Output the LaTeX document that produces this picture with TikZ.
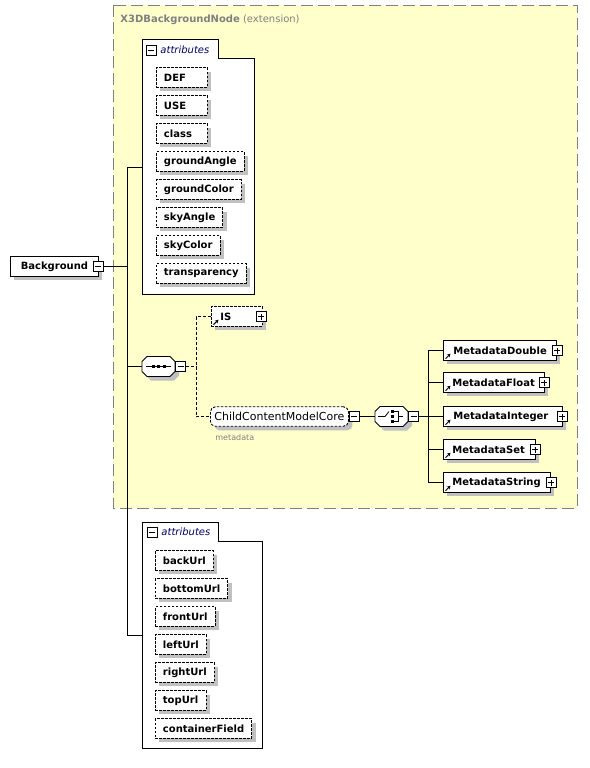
\documentclass[tikz,border=0pt]{standalone}
\usepackage{fontspec}
\setmainfont{DejaVu Sans}
\usetikzlibrary{shadows,arrows.meta}
\definecolor{ylw}{RGB}{255,255,204}
\definecolor{shd}{RGB}{192,192,192}
\definecolor{grayline}{RGB}{128,128,128}
\definecolor{navy}{RGB}{0,0,96}
\newcommand\octshape{(-11.5,-10) -- (11.5,-10) -- (16.5,-5) -- (16.5,5) -- (11.5,10) -- (-11.5,10) -- (-16.5,5) -- (-16.5,-5) -- cycle}
\newcommand\lefttext[1]{\setbox0\hbox{#1}\ifdim\wd0<36pt\hbox to 36pt{#1\hfil}\else\box0\fi}
\begin{document}
\begin{tikzpicture}[x=1pt,y=-1pt, line width=0.9pt,
 every node/.style={font=\fontsize{10pt}{12pt}\selectfont},
 boxshadow/.style={drop shadow={shadow xshift=4pt,shadow yshift=-4pt,fill=shd,opacity=1}},
 elem/.style={draw, fill=white, minimum height=19.5pt, inner ysep=0pt, inner xsep=7.5pt,
   font=\fontsize{10pt}{12pt}\selectfont\bfseries, boxshadow, anchor=west},
 attr/.style={elem, dash pattern=on 2.5pt off 1.5pt},
 metabox/.style={elem, inner xsep=0pt, align=left},
 pmbox/.style={draw, fill=white, minimum size=10pt, inner sep=0pt, line width=0.8pt, solid},
 minusbox/.style={pmbox, path picture={\draw[line width=0.8pt] ([xshift=2pt]path picture bounding box.west) -- ([xshift=-2pt]path picture bounding box.east);}},
 plusbox/.style={pmbox, path picture={\draw[line width=0.8pt] ([xshift=2pt]path picture bounding box.west) -- ([xshift=-2pt]path picture bounding box.east);
     \draw[line width=0.8pt] ([yshift=2pt]path picture bounding box.south) -- ([yshift=-2pt]path picture bounding box.north);}},
 compositor/.style={minimum width=33pt, minimum height=20pt, inner sep=0pt},
 dconn/.style={dash pattern=on 3pt off 2pt},
 iconarrow/.style={-{Stealth[length=3.5pt,width=3.8pt]}, line width=1pt, solid},
 container/.style={draw, fill=white, line width=0.9pt},
 attrlabel/.style={anchor=west, inner sep=0pt, font=\fontsize{10pt}{12pt}\selectfont\itshape, text=navy},
]
\useasboundingbox (0,0) rectangle (589,768);

% extension area
\draw[grayline, dash pattern=on 12pt off 5pt, fill=ylw] (113,5) rectangle (577,508);
\node[anchor=west, inner sep=0pt, text=grayline] (title) at (120,20) {\textbf{X3DBackgroundNode} (extension)};

% attributes container 1
\draw[container] (142,39) -- (218,39) -- (218,58) -- (254,58) -- (254,294) -- (142,294) -- cycle;
\node[minusbox] (a1m) at (151,50.5) {};
\node[attrlabel] (a1lbl) at (160,49.5) {attributes};
\foreach \n/\t [count=\i from 0] in {def/DEF, use/USE, class/class, gangle/groundAngle, gcolor/groundColor, sangle/skyAngle, scolor/skyColor, transp/transparency}
  \node[attr] (\n) at (156,77.5+28*\i) {\lefttext{\t}};

% attributes container 2
\draw[container] (142,522) -- (218,522) -- (218,541) -- (262,541) -- (262,748) -- (142,748) -- cycle;
\node[minusbox] (a2m) at (152,532.5) {};
\node[attrlabel] (a2lbl) at (161,531.5) {attributes};
\foreach \n/\t [count=\i from 0] in {back/backUrl, bottom/bottomUrl, front/frontUrl, left/leftUrl, right/rightUrl, top/topUrl, cfield/containerField}
  \node[attr] (\n) at (155,560.5+28*\i) {\lefttext{\t}};

% root
\node[elem, minimum width=88pt] (bg) at (10,266.5) {Background};
\node[minusbox] (bgm) at (98,266.5) {};

% sequence
\fill[shd, shift={(162.5,370.5)}] \octshape;
\filldraw[fill=white, shift={(158.5,366.5)}] \octshape;
\node[compositor] (seq) at (158.5,366.5) {};
\draw[line width=0.8pt] (146,366.5) -- (171,366.5);
\foreach \xx in {153,158.5,164} \fill (\xx-1.5,365) rectangle +(3,3);
\node[minusbox] (seqm) at (180.5,366.5) {};

% IS
\node[metabox, dash pattern=on 2.5pt off 1.5pt, minimum width=51pt, text width=33pt] (is) at (211,316.5) {IS};
\node[plusbox] (isp) at (261,316.5) {};
\draw[iconarrow] ([shift={(2.5,-2)}]is.south west) -- ++(5,-5);

% ChildContentModelCore
\node[draw, fill=white, rounded corners=5pt, dash pattern=on 2.5pt off 1.5pt, boxshadow,
  minimum width=138pt, minimum height=19.5pt, inner sep=0pt, anchor=west,
  font=\fontsize{11pt}{13pt}\selectfont] (ccmc) at (210,416.5) {ChildContentModelCore};
\node[minusbox] (ccmcm) at (354,416.5) {};
\node[anchor=west, inner sep=0pt, text=grayline, font=\fontsize{8pt}{9pt}\selectfont] (mdlbl) at (215,438) {metadata};

% choice
\fill[shd, shift={(395.5,420.5)}] \octshape;
\filldraw[fill=white, shift={(391.5,416.5)}] \octshape;
\node[compositor] (ch) at (391.5,416.5) {};
\draw[line width=0.8pt] (378,416.5) -- (385,416.5) -- (389,411.5);
\foreach \yy in {411.5,416.5,421} \fill (391,\yy-1.5) rectangle +(3,3);
\draw[line width=0.8pt] (394,411.5) -- (398,411.5) -- (398,421) -- (394,421);
\draw[line width=0.8pt] (398,416.5) -- (402.5,416.5);
\node[minusbox] (chm) at (413.5,416.5) {};

% metadata elements
\node[metabox, minimum width=113pt, text width=93pt] (md) at (443,350.5) {MetadataDouble};
\node[metabox, minimum width=101pt, text width=83pt] (mf) at (443,382.5) {MetadataFloat};
\node[metabox, minimum width=119pt, text width=99pt] (mi) at (443,416.5) {MetadataInteger};
\node[metabox, minimum width=92pt, text width=74pt] (ms) at (443,449.5) {MetadataSet};
\node[metabox, minimum width=107pt, text width=89pt] (mstr) at (443,482.5) {MetadataString};
\node[plusbox] (mdp) at (557,350.5) {};
\node[plusbox] (mfp) at (544,382.5) {};
\node[plusbox] (mip) at (562,416.5) {};
\node[plusbox] (msp) at (535,449.5) {};
\node[plusbox] (mstrp) at (551,482.5) {};
\foreach \n in {md,mf,mi,ms,mstr}
  \draw[iconarrow] ([shift={(2.5,-2)}]\n.south west) -- ++(5,-5);

% connectors
\coordinate (a1) at (142,167);
\coordinate (a2) at (142,635);
\coordinate (bus) at (127,0);
\draw (a1) -- (a1 -| bus) -- (a2 -| bus) -- (a2);
\draw (bgm.east) -- (bgm.east -| bus);
\draw (seq.west) -- (seq.west -| bus);
\coordinate (sbus) at (196,0);
\draw[dconn] (seqm.east) -- (seqm.east -| sbus);
\draw[dconn] (is.west) -- (is.west -| sbus) -- (ccmc.west -| sbus) -- (ccmc.west);
\draw (ccmcm.east) -- (ch.west);
\coordinate (cbus) at (428,0);
\draw (chm.east) -- (chm.east -| cbus);
\draw (md.west) -- (md.west -| cbus) -- (mstr.west -| cbus) -- (mstr.west);
\foreach \n in {mf,mi,ms} \draw (\n.west) -- (\n.west -| cbus);
\end{tikzpicture}
\end{document}
